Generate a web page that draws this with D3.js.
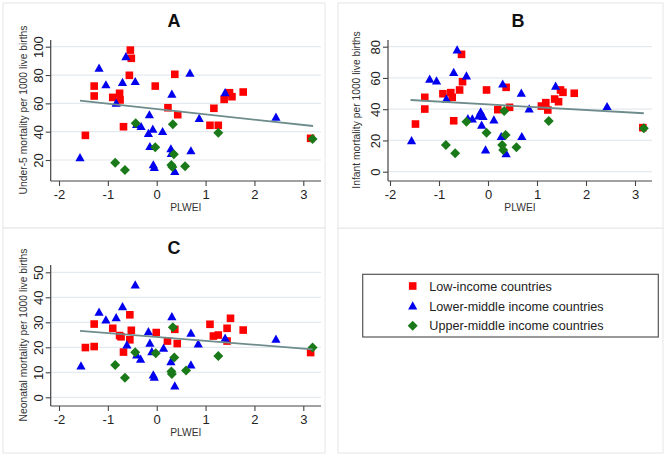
<!DOCTYPE html>
<html><head><meta charset="utf-8">
<script src="https://cdn.jsdelivr.net/npm/d3@7"></script>
<style>
html,body{margin:0;padding:0;background:#fff;}
svg{display:block;font-family:"Liberation Sans",Arial,sans-serif;}
</style></head>
<body><svg id="chart" width="669" height="457"></svg>
<script>
// ---------- DATA ----------
const groupNames = ["Low-income countries", "Lower-middle income countries", "Upper-middle income countries"];
const xLabel = "PLWEI";
const xTicks = [-2, -1, 0, 1, 2, 3];

// Panel A: Under-5 mortality
const lowA = [[-1.46,37.4],[-1.28,72.2],[-1.28,65.2],[-0.90,64.2],[-0.76,67.1],[-0.75,62.4],[-0.68,43.5],[-0.54,97.6],[-0.52,91.8],[-0.56,79.8],[-0.03,72.2],[0.23,56.9],[0.43,52.0],[0.37,80.5],[1.17,56.5],[1.09,44.5],[1.26,44.5],[1.38,62.8],[1.49,67.5],[1.54,64.7],[1.77,68.0],[3.15,35.3]];
const lowerMidA = [[-1.57,21.6],[-1.18,84.7],[-1.04,73.0],[-0.83,60.0],[-0.70,74.6],[-0.63,92.9],[-0.44,75.3],[-0.41,45.0],[-0.32,43.5],[-0.15,51.8],[-0.08,41.7],[-0.17,38.6],[0.12,40.0],[-0.14,29.4],[-0.07,16.5],[-0.05,14.6],[0.31,66.4],[0.29,27.8],[0.30,24.5],[0.37,11.8],[0.68,81.2],[0.70,26.4],[0.87,49.2],[1.40,67.5],[2.44,50.2]];
const upperMidA = [[-0.85,18.1],[-0.65,13.0],[-0.43,46.0],[-0.03,29.0],[0.33,45.2],[0.35,24.0],[0.30,16.5],[0.32,15.0],[0.58,15.5],[1.26,39.3],[3.19,34.8]];
const fitXA = [-1.57, 3.20];
const fitYA = [61.9, 44.0];
const yTicksA = [20, 40, 60, 80, 100];

// Panel B: Infant mortality
const lowB = [[-1.48,30.5],[-1.29,47.6],[-1.29,40.1],[-0.92,49.9],[-0.76,50.6],[-0.73,47.6],[-0.70,32.6],[-0.58,52.3],[-0.52,57.6],[-0.54,75.1],[-0.03,52.3],[0.20,39.7],[0.37,54.0],[0.44,41.2],[1.09,42.0],[1.18,44.2],[1.22,39.5],[1.36,46.5],[1.44,44.8],[1.48,52.3],[1.53,50.8],[1.76,50.2],[3.16,28.2]];
const lowerMidB = [[-1.56,19.8],[-1.19,59.1],[-1.05,58.0],[-0.85,46.5],[-0.70,63.4],[-0.63,77.9],[-0.44,61.2],[-0.41,33.9],[-0.32,33.7],[-0.15,38.2],[-0.19,35.6],[-0.10,35.2],[-0.13,29.7],[-0.05,13.9],[0.12,33.1],[0.27,22.4],[0.30,56.0],[0.37,11.5],[0.68,50.2],[0.69,22.4],[0.84,40.1],[1.38,54.6],[2.43,41.6]];
const upperMidB = [[-0.86,17.1],[-0.67,11.8],[-0.44,32.0],[-0.03,25.0],[0.33,38.8],[0.36,23.5],[0.29,17.1],[0.31,13.9],[0.58,15.6],[1.24,32.4],[3.18,27.8]];
const fitXB = [-1.58, 3.18];
const fitYB = [45.9, 37.4];
const yTicksB = [0, 20, 40, 60, 80];

// Panel C: Neonatal mortality
const lowC = [[-1.46,19.9],[-1.28,20.3],[-1.28,29.3],[-0.90,27.6],[-0.76,24.7],[-0.73,24.2],[-0.68,18.1],[-0.55,33.0],[-0.52,26.8],[-0.55,23.0],[-0.01,25.9],[0.22,22.5],[0.37,27.2],[0.42,21.5],[1.09,29.2],[1.16,24.5],[1.26,24.9],[1.44,27.6],[1.51,31.6],[1.44,22.5],[1.77,26.9],[3.15,17.9]];
const lowerMidC = [[-1.55,12.5],[-1.18,34.0],[-1.04,30.9],[-0.83,31.8],[-0.70,36.2],[-0.44,44.9],[-0.61,20.9],[-0.41,16.9],[-0.33,15.2],[-0.17,26.2],[-0.14,21.6],[-0.10,18.2],[-0.07,8.9],[-0.05,8.0],[0.14,19.6],[0.31,32.2],[0.29,14.2],[0.37,4.5],[0.70,25.6],[0.70,12.9],[0.85,21.3],[1.40,23.6],[2.44,23.2]];
const upperMidC = [[-0.85,12.9],[-0.65,7.8],[-0.44,18.0],[-0.02,17.6],[0.33,28.0],[0.36,15.9],[0.30,10.3],[0.31,9.3],[0.60,10.7],[1.26,16.5],[3.19,19.9]];
const fitXC = [-1.57, 3.19];
const fitYC = [26.6, 19.2];
const yTicksC = [0, 10, 20, 30, 40, 50];

// ---------- STYLE / LAYOUT ----------
const colors = ["#ff0000", "#0000ee", "#1a7a1a"];
const svg = d3.select("#chart");

const panels = [
  {title:"A", ylab:"Under-5 mortality per 1000 live births", low:lowA, lm:lowerMidA, um:upperMidA, fx:fitXA, fy:fitYA, yt:yTicksA,
   box:[3,3,322,225], px:[50.7,321], xr:[59,303.3], py:[181,40], yd:[20,100], yr:[160,46.7], tx:174, ty:26.5, ylx:27, yly:110},
  {title:"B", ylab:"Infant mortality per 1000 live births", low:lowB, lm:lowerMidB, um:upperMidB, fx:fitXB, fy:fitYB, yt:yTicksB,
   box:[338,3,325,225], px:[388,652], xr:[390,635], py:[181,40], yd:[0,80], yr:[171.7,46.7], tx:518, ty:26.5, ylx:360, yly:110},
  {title:"C", ylab:"Neonatal mortality per 1000 live births", low:lowC, lm:lowerMidC, um:upperMidC, fx:fitXC, fy:fitYC, yt:yTicksC,
   box:[3,228,322,225], px:[50.7,321], xr:[59,303.3], py:[406,265], yd:[0,50], yr:[397.3,272.3], tx:174, ty:253.5, ylx:27, yly:335}
];

// legend panel box
svg.append("rect").attr("x",338).attr("y",228).attr("width",325).attr("height",225)
  .attr("fill","#fff").attr("stroke","#e6e6e6");

function marker(g, type, cx, cy, color){
  if(type===0){
    g.append("rect").attr("x",cx-3.8).attr("y",cy-3.8).attr("width",7.6).attr("height",7.6).attr("fill",color);
  } else if(type===1){
    g.append("path").attr("d",`M${cx},${cy-4.8}L${cx+4.6},${cy+3.4}L${cx-4.6},${cy+3.4}Z`).attr("fill",color);
  } else {
    g.append("path").attr("d",`M${cx},${cy-5}L${cx+5},${cy}L${cx},${cy+5}L${cx-5},${cy}Z`).attr("fill",color);
  }
}

panels.forEach(p=>{
  const g = svg.append("g");
  g.append("rect").attr("x",p.box[0]).attr("y",p.box[1]).attr("width",p.box[2]).attr("height",p.box[3])
    .attr("fill","#fff").attr("stroke","#e6e6e6");
  const x = d3.scaleLinear().domain([-2,3]).range(p.xr);
  const y = d3.scaleLinear().domain(p.yd).range(p.yr);

  // gridlines
  g.selectAll(".grid").data(p.yt).enter().append("line")
    .attr("x1",p.px[0]).attr("x2",p.px[1]).attr("y1",d=>y(d)).attr("y2",d=>y(d))
    .attr("stroke","#e3eaef").attr("stroke-width",1.2);

  // axes lines
  g.append("line").attr("x1",p.px[0]).attr("x2",p.px[0]).attr("y1",p.py[1]).attr("y2",p.py[0])
    .attr("stroke","#444").attr("stroke-width",1.2);
  g.append("line").attr("x1",p.px[0]).attr("x2",p.px[1]).attr("y1",p.py[0]).attr("y2",p.py[0])
    .attr("stroke","#444").attr("stroke-width",1.2);

  // x axis via d3 axis
  const xa = g.append("g").attr("transform",`translate(0,${p.py[0]})`)
    .call(d3.axisBottom(x).tickValues(xTicks).tickSize(5).tickSizeOuter(0).tickPadding(4).tickFormat(d3.format("d")));
  xa.select(".domain").remove();
  xa.selectAll("line").attr("stroke","#444").attr("stroke-width",1.1);
  xa.selectAll("text").attr("font-size",13).attr("fill","#222").attr("font-family","Liberation Sans, Arial, sans-serif")
    .text(d=>String(d).replace("−","-"));

  // y axis via d3 axis
  const ya = g.append("g").attr("transform",`translate(${p.px[0]},0)`)
    .call(d3.axisLeft(y).tickValues(p.yt).tickSize(5).tickSizeOuter(0).tickFormat(d3.format("d")));
  ya.select(".domain").remove();
  ya.selectAll("line").attr("stroke","#444").attr("stroke-width",1.1);
  ya.selectAll("text").attr("font-size",13).attr("fill","#222").attr("font-family","Liberation Sans, Arial, sans-serif")
    .attr("text-anchor","middle").attr("x",null).attr("dy",null)
    .attr("transform","translate(-8,0) rotate(-90)");

  // axis titles
  g.append("text").attr("x",(p.px[0]+p.px[1])/2).attr("y",p.py[0]+30).attr("text-anchor","middle")
    .attr("font-size",10.3).attr("fill","#333").text(xLabel);
  g.append("text").attr("transform",`translate(${p.ylx},${p.yly}) rotate(-90)`).attr("text-anchor","middle")
    .attr("font-size",10.3).attr("fill","#333").text(p.ylab);

  // panel title
  g.append("text").attr("x",p.tx).attr("y",p.ty).attr("text-anchor","middle")
    .attr("font-size",18).attr("font-weight","bold").attr("fill","#111").text(p.title);

  // markers
  [p.low, p.lm, p.um].forEach((arr,i)=>{
    arr.forEach(d=>marker(g, i, x(d[0]), y(d[1]), colors[i]));
  });

  // fit line
  g.append("line").attr("x1",x(p.fx[0])).attr("x2",x(p.fx[1])).attr("y1",y(p.fy[0])).attr("y2",y(p.fy[1]))
    .attr("stroke","#6e8c8c").attr("stroke-width",1.8);
});

// legend
const lg = svg.append("g");
lg.append("rect").attr("x",362.7).attr("y",274.3).attr("width",295.6).attr("height",62.7)
  .attr("fill","#fff").attr("stroke","#555").attr("stroke-width",1.2);
const legY = [286, 306, 325.7];
groupNames.forEach((name,i)=>{
  marker(lg, i, 412.7, legY[i], colors[i]);
  lg.append("text").attr("x",429.3).attr("y",legY[i]+4.5).attr("font-size",12.6).attr("fill","#222").text(name);
});
</script></body></html>
